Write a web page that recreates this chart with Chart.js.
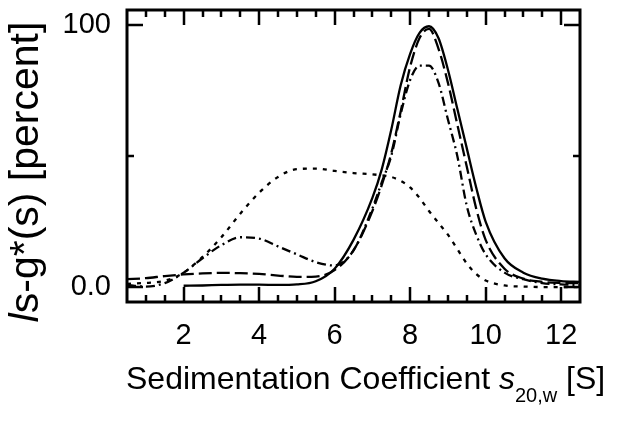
<!DOCTYPE html>
<html><head><meta charset="utf-8">
<script src="https://cdn.jsdelivr.net/npm/chart.js@4/dist/chart.umd.min.js"></script>
<style>html,body{margin:0;padding:0;background:#fff}</style>
</head><body>
<canvas id="c" width="624" height="429"></canvas>
<script>
// Sedimentation coefficient grid (S)
const sValues = [0.5,1,1.5,2,2.5,3,3.5,4,4.5,5,5.5,6,6.5,7,7.25,7.5,7.75,8,8.25,8.5,8.75,9,9.25,9.5,9.75,10,10.5,11,11.5,12,12.5];
// ls-g*(s) [percent] per curve
const solidCurve   = [null,null,null,0.5,0.6,0.8,0.9,0.9,0.8,1.0,2.2,7,18,34,45,60,77,89,97,99.5,95,83,68,53,38,25,11,5.5,3.2,2.3,2.0];
const dashedCurve  = [3.0,3.4,4.2,4.8,5.2,5.4,5.3,5.0,4.4,3.9,4.0,6.5,14,29,39,51,67,84,95,98.5,91,78,62,46,30,18,7,3.2,2.0,1.6,1.5];
const dashDotCurve = [0.8,0.2,1.5,5.5,11,16,19,18.5,15.5,12.5,9.5,8.2,14,30,40,50,66,79,84.5,84.5,78,64,50,31,20,12.5,5.5,3.0,1.5,1.0,0.8];
const dottedCurve  = [1.2,1.6,2.4,5.5,11.5,19,28,36,42,45,45.2,44.3,43.5,43,42.6,42,40.5,38,34,29,24.5,20,14.5,9,5,2.5,0.6,0.2,0,0,0];
const xTickValues = [2,4,6,8,10,12];
const yTickValues = [0,50,100];
const yTickLabels = ['0.0','','100'];

const FONT = "'Liberation Sans', Arial, sans-serif";
const pts = arr => sValues.map((s,i)=>({x:s,y:arr[i]}));
const ds = (arr, dash) => ({data: pts(arr), borderColor:'#000', borderWidth:2.3, borderDash:dash,
  pointRadius:0, cubicInterpolationMode:'monotone', fill:false, spanGaps:false});
const noPad = s => { s.paddingTop=0; s.paddingBottom=0; s.paddingLeft=0; s.paddingRight=0; };

const framePlugin = {
  id:'frame',
  afterDatasetsDraw(chart){
    const {ctx, chartArea:a, scales:{x,y}} = chart;
    ctx.save();
    ctx.strokeStyle='#000'; ctx.lineCap='butt';
    ctx.lineWidth=2.5;
    ctx.beginPath();
    for (let v=1; v<12.5; v+=0.5){
      const px = Math.round(x.getPixelForValue(v));
      const len = xTickValues.includes(v) ? 15 : 7;
      ctx.moveTo(px, a.top); ctx.lineTo(px, a.top+len);
      ctx.moveTo(px, a.bottom); ctx.lineTo(px, a.bottom-len);
    }
    yTickValues.forEach(v=>{
      const py = Math.round(y.getPixelForValue(v));
      const len = (v===50) ? 7 : 16;
      ctx.moveTo(a.left, py); ctx.lineTo(a.left+len, py);
      ctx.moveTo(a.right, py); ctx.lineTo(a.right-len, py);
    });
    ctx.stroke();
    ctx.lineWidth=3;
    ctx.strokeRect(a.left, a.top, a.right-a.left, a.bottom-a.top);
    ctx.restore();
  },
  afterDraw(chart){
    const ctx = chart.ctx;
    ctx.save();
    ctx.fillStyle='#000';
    ctx.textBaseline='alphabetic';
    // x title
    const parts = [
      {t:'Sedimentation Coefficient ', f:`32px ${FONT}`, dy:0},
      {t:'s', f:`italic 32px ${FONT}`, dy:0},
      {t:'20,w', f:`20px ${FONT}`, dy:13},
      {t:' [S]', f:`32px ${FONT}`, dy:0}
    ];
    let xx = 126, base = 389;
    parts.forEach(p=>{ctx.font=p.f; ctx.fillText(p.t, xx, base+p.dy); xx += ctx.measureText(p.t).width;});
    // y title
    const yparts = [
      {t:'l', f:`italic 41px ${FONT}`},
      {t:'s-g*(s) [percent]', f:`41px ${FONT}`}
    ];
    let total = 0;
    yparts.forEach(p=>{ctx.font=p.f; total += ctx.measureText(p.t).width;});
    ctx.translate(38, 172);
    ctx.rotate(-Math.PI/2);
    let tx = -total/2;
    yparts.forEach(p=>{ctx.font=p.f; ctx.fillText(p.t, tx, 0); tx += ctx.measureText(p.t).width;});
    ctx.restore();
  }
};

new Chart(document.getElementById('c'), {
  type:'line',
  data:{datasets:[ds(solidCurve,[]), ds(dashedCurve,[13,5]), ds(dashDotCurve,[9,4,2,4]), ds(dottedCurve,[4,6])]},
  options:{
    responsive:false, animation:false, devicePixelRatio:1,
    layout:{padding:{left:0,right:44,top:10,bottom:0}},
    plugins:{legend:{display:false}, tooltip:{enabled:false}},
    scales:{
      x:{type:'linear', min:0.5, max:12.5,
        afterBuildTicks:s=>{s.ticks = xTickValues.map(v=>({value:v}));},
        afterFit:s=>{s.height=127; noPad(s);},
        ticks:{color:'#000', font:{family:FONT,size:29}, padding:17, maxRotation:0, autoSkip:false},
        grid:{display:false, drawTicks:false}, border:{display:false}},
      y:{type:'linear', min:-5.7, max:105.7,
        afterBuildTicks:s=>{s.ticks = yTickValues.map(v=>({value:v}));},
        afterFit:s=>{s.width=127; noPad(s);},
        ticks:{color:'#000', font:{family:FONT,size:29}, padding:16,
          callback:(v)=>{const i=yTickValues.indexOf(v); return i>=0?yTickLabels[i]:'';}},
        grid:{display:false, drawTicks:false}, border:{display:false}}
    }
  },
  plugins:[framePlugin]
});
</script>
</body></html>
